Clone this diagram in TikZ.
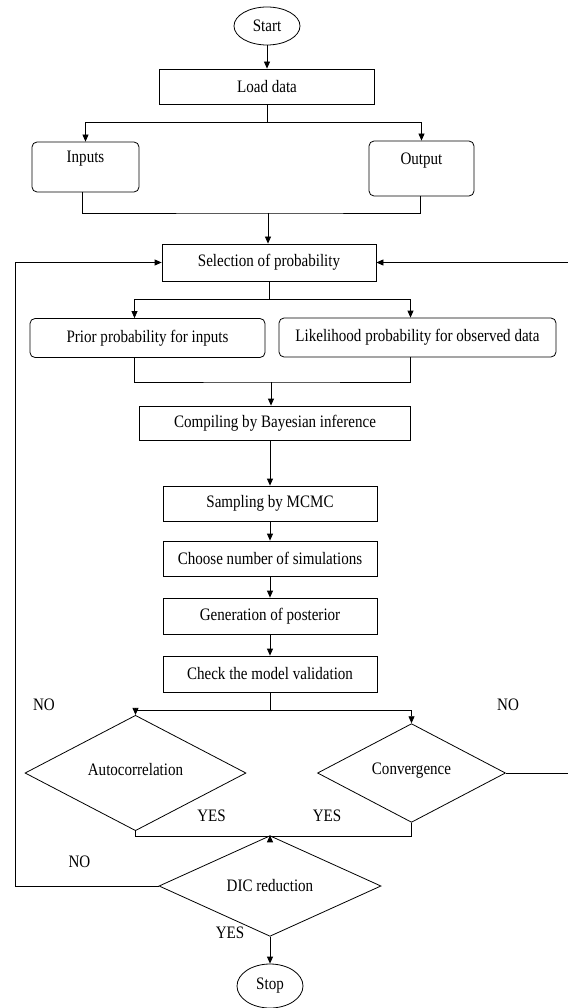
\documentclass[tikz,border=0pt]{standalone}
\usepackage{fontspec}
\setmainfont{Liberation Serif}[FakeStretch=0.86]
\usetikzlibrary{arrows.meta,shapes.geometric}
\tikzset{
  box/.style={draw,line width=0.8pt,minimum height=35pt,inner sep=0pt},
  rbox/.style={box,rounded corners=5pt},
  topbox/.style={rbox,text height=12pt,text depth=20pt},
  dec/.style={draw,diamond,line width=0.8pt,inner sep=0pt},
  term/.style={draw,ellipse,line width=0.8pt,inner sep=0pt},
  arr/.style={-{Triangle[length=7pt,width=6pt]}},
  lab/.style={inner sep=0pt}
}

\begin{document}
\begin{tikzpicture}[x=1pt,y=-1pt,line width=0.8pt,font=\fontsize{17.5}{19}\selectfont]
\useasboundingbox (0,0) rectangle (567,1008);
% nodes
\node[term,minimum width=66pt,minimum height=38pt] (start) at (267,26){Start};
\node[box,minimum width=215pt] (load) at (267,86.5){Load data};
\node[topbox,minimum width=107pt,minimum height=50pt] (inputs) at (85.5,167){Inputs};
\node[topbox,minimum width=105pt,minimum height=55pt] (output) at (421.5,168.5){Output};
\node[box,minimum width=214pt,minimum height=37pt] (select) at (269,262.5){Selection of probability};
\node[rbox,minimum width=235pt,minimum height=39pt] (prior) at (147.5,338){Prior probability for inputs};
\node[rbox,minimum width=277pt,minimum height=39pt] (likeli) at (417.5,337.5){Likelihood probability for observed data};
\node[box,minimum width=271pt,minimum height=34pt] (compile) at (275,423){Compiling by Bayesian inference};
\node[box,minimum width=214pt] (sample) at (270,503.5){Sampling by MCMC};
\node[box,minimum width=214pt] (choose) at (270,558.5){Choose number of simulations};
\node[box,minimum width=214pt,minimum height=36pt] (gen) at (270,616){Generation of posterior};
\node[box,minimum width=214pt,minimum height=36pt] (check) at (270,674){Check the model validation};
\node[dec,minimum width=221pt,minimum height=87pt] (auto) at (135.5,773){\raisebox{8pt}{Autocorrelation}};
\node[dec,minimum width=188pt,minimum height=87pt] (conv) at (411.5,773){\raisebox{8pt}{Convergence}};
\node[dec,minimum width=222pt,minimum height=52pt] (dic) at (270,886){\raisebox{2pt}{DIC reduction}};
\node[term,minimum width=66pt,minimum height=44pt] (stop) at (270,986){Stop};
% junctions
\coordinate (j1) at (267,122); \coordinate (j2) at (268,213);
\coordinate (j3) at (269,299); \coordinate (j4) at (271,382);
\coordinate (j5) at (270,710); \coordinate (j6) at (270,836);
\coordinate (l1) at (15,886); \coordinate (r1) at (568.5,773);
% connectors
\draw[arr] (start) -- (load);
\draw (load) -- (j1); \draw[arr] (j1) -| (inputs.north); \draw[arr] (j1) -| (output.north);
\draw ([xshift=-3pt]inputs.south) |- (j2) -| ([xshift=-1.5pt]output.south); \draw[arr] (j2) -- (j2 |- select.north);
\draw (select) -- (j3); \draw[arr] (j3) -| ([xshift=-13pt]prior.north); \draw[arr] (j3) -| ([xshift=-7pt]likeli.north);
\draw ([xshift=-13pt]prior.south) |- (j4) -| ([xshift=-7pt]likeli.south); \draw[arr] (j4) -- (j4 |- compile.north);
\draw[arr] (sample.north |- compile.south) -- (sample);
\draw[arr] (sample) -- (choose); \draw[arr] (choose) -- (gen); \draw[arr] (gen) -- (check);
\draw (check) -- (j5); \draw[arr] (j5) -| (auto.north); \draw[arr] (j5) -| (conv.north);
\draw (auto.south) |- (j6) -| (conv.south); \draw[arr] (j6) -- (dic);
\draw[arr] (dic) -- (stop);
\draw[arr] (dic.west) -- (l1) |- (select.west);
\draw[arr] (conv.east) -- (r1) |- (select.east);
% labels
\node[lab] (no1) at (44,705){NO}; \node[lab] (no2) at (508,705){NO};
\node[lab] (yes1) at (211.5,816){YES}; \node[lab] (yes2) at (327,816){YES};
\node[lab] (no3) at (79.5,862){NO}; \node[lab] (yes3) at (230,933){YES};
\end{tikzpicture}
\end{document}
